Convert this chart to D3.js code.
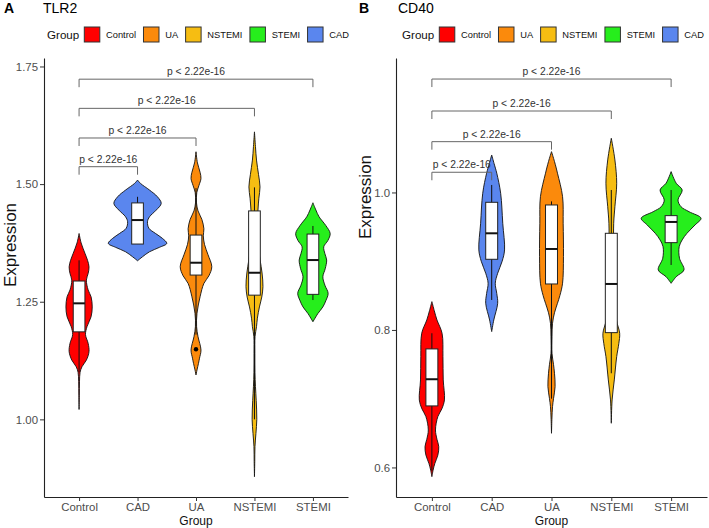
<!DOCTYPE html>
<html><head><meta charset="utf-8">
<script src="https://cdn.jsdelivr.net/npm/d3@7"></script>
<style>body{margin:0;background:#fff}svg{display:block}text{font-family:"Liberation Sans",Arial,sans-serif}</style>
</head><body><svg id="c" width="709" height="528"></svg>
<script>
// ---------- data ----------
const categories = ["Control", "CAD", "UA", "NSTEMI", "STEMI"];
const categoryColors = ["#ff0000", "#5a86ee", "#fb8a0c", "#f6bd12", "#26ee1c"];
const legendOrder = ["Control", "UA", "NSTEMI", "STEMI", "CAD"];
const comparisons = [["Control", "CAD"], ["Control", "UA"], ["Control", "NSTEMI"], ["Control", "STEMI"]];
const pLabels = ["p < 2.22e-16", "p < 2.22e-16", "p < 2.22e-16", "p < 2.22e-16"];

// TLR2 panel
const tlr2Ticks = [1.00, 1.25, 1.50, 1.75];
const tlr2Domain = [0.835, 1.768];
const tlr2BracketY = [1.537, 1.598, 1.661, 1.723];
// violin profiles: [value, relative density]
const tlr2Control = [[1.395,0],[1.375,.07],[1.353,.2],[1.338,.29],[1.324,.34],[1.31,.31],[1.296,.25],[1.275,.31],[1.2606,.41],[1.239,.45],[1.218,.41],[1.197,.27],[1.18,.22],[1.1616,.31],[1.144,.34],[1.126,.25],[1.112,.1],[1.1,.034],[1.08,.014],[1.05,.007],[1.021,0]];
const tlr2CAD = [[1.5086,0],[1.5015,.1],[1.4873,.41],[1.4731,.68],[1.459,.81],[1.4448,.64],[1.4306,.41],[1.42,.34],[1.406,.39],[1.3953,.61],[1.3847,.85],[1.374,1.0],[1.3656,.75],[1.3562,.41],[1.3456,.17],[1.3371,0]];
const tlr2UA = [[1.5687,0],[1.545,.05],[1.525,.14],[1.512,.17],[1.497,.1],[1.482,.027],[1.46,.017],[1.443,.07],[1.425,.2],[1.405,.27],[1.39,.25],[1.372,.29],[1.35,.41],[1.3244,.54],[1.305,.44],[1.289,.27],[1.2606,.14],[1.2254,.034],[1.197,.02],[1.1756,.07],[1.1474,.17],[1.13,.12],[1.1191,.085],[1.105,.034],[1.0943,0]];
const tlr2NSTEMI = [[1.611,0],[1.58,.034],[1.551,.07],[1.52,.14],[1.494,.19],[1.47,.15],[1.445,.12],[1.41,.1],[1.374,.12],[1.34,.19],[1.311,.26],[1.282,.29],[1.26,.25],[1.239,.17],[1.215,.1],[1.197,.07],[1.176,.02],[1.14,.014],[1.1,.017],[1.07,.034],[1.04,.06],[1.0,.08],[0.97,.05],[0.942,.017],[0.91,.01],[0.878,0]];
const tlr2STEMI = [[1.4603,0],[1.445,.1],[1.4306,.21],[1.412,.44],[1.395,.59],[1.38,.51],[1.3668,.37],[1.352,.41],[1.3386,.47],[1.32,.42],[1.303,.34],[1.285,.41],[1.2679,.52],[1.252,.44],[1.239,.34],[1.225,.17],[1.218,.1],[1.2075,0]];
// box stats: [lower whisker, q1, median, q3, upper whisker]
const tlr2Box = [[1.10,1.186,1.2466,1.294,1.338],[1.3726,1.3726,1.4236,1.460,1.473],[1.18,1.3067,1.3329,1.3917,1.4915],[1.0,1.264,1.3116,1.443,1.493],[1.2536,1.2657,1.3386,1.3938,1.411]];
const tlr2Outliers = [["UA", 1.149]];

// CD40 panel
const cd40Ticks = [0.6, 0.8, 1.0];
const cd40Domain = [0.557, 1.1956];
const cd40BracketY = [1.0294, 1.0739, 1.1185, 1.165];
const cd40Control = [[0.8412,0],[0.828,.08],[0.8145,.17],[0.7952,.34],[0.7612,.37],[0.7273,.38],[0.6982,.42],[0.685,.33],[0.674,.2],[0.6545,.12],[0.641,.17],[0.6303,.23],[0.618,.2],[0.606,.1],[0.596,.04],[0.5866,0]];
const cd40CAD = [[1.0545,0],[1.042,.08],[1.028,.17],[0.9988,.3],[0.9552,.37],[0.9164,.43],[0.9,.35],[0.8825,.2],[0.868,.12],[0.853,.17],[0.8388,.2],[0.8145,.07],[0.7976,0]];
const cd40UA = [[1.0594,0],[1.045,.1],[1.028,.2],[0.9939,.37],[0.9552,.39],[0.9066,.4],[0.868,.37],[0.85,.28],[0.8388,.2],[0.825,.1],[0.8097,.034],[0.79,.017],[0.766,.017],[0.75,.067],[0.737,.1],[0.7175,.12],[0.70,.067],[0.6884,.034],[0.67,.013],[0.6497,0]];
const cd40NSTEMI = [[1.0788,0],[1.0473,.12],[1.0134,.18],[0.9793,.12],[0.9552,.08],[0.92,.077],[0.8825,.083],[0.85,.1],[0.8145,.17],[0.7952,.28],[0.78,.25],[0.7612,.18],[0.7273,.1],[0.6982,.027],[0.6643,0]];
const cd40STEMI = [[1.0303,0],[1.0134,.17],[1.0036,.37],[0.9891,.23],[0.9793,.33],[0.972,.6],[0.9625,1.0],[0.9527,.8],[0.9406,.53],[0.931,.37],[0.9212,.27],[0.9043,.28],[0.8873,.43],[0.8775,.17],[0.8679,0]];
const cd40Box = [[0.595,0.6895,0.7283,0.7724,0.7952],[0.8436,0.9028,0.9406,0.9857,1.0109],[0.70,0.8669,0.9178,0.9818,0.987],[0.737,0.7961,0.8669,0.9406,1.0036],[0.8945,0.927,0.9571,0.9663,1.0036]];
const cd40Outliers = [];

// ---------- drawing ----------
const svg = d3.select("#c");
const colorOf = d3.scaleOrdinal().domain(categories).range(categoryColors);

function panel(o) {
  const g = svg.append("g");
  const x = d3.scalePoint().domain(categories).range([o.left, o.right]).padding(0.6);
  const y = d3.scaleLinear().domain(o.domain).range([497, 58]);
  const w = d3.scaleLinear().domain([0, 1]).range([0, x.step() * 0.5]);
  const boxHalf = x.step() * 0.1;

  // titles
  g.append("text").attr("x", o.ox + 4).attr("y", 13).attr("font-size", 14).attr("font-weight", "bold").text(o.letter);
  g.append("text").attr("x", o.ox + 43).attr("y", 13).attr("font-size", 14).text(o.title);

  // legend
  const lg = g.append("g");
  lg.append("text").attr("x", o.ox + 47).attr("y", 39).attr("font-size", 11.6).attr("fill", "#111").text("Group");
  let lx = o.ox + 84.3;
  legendOrder.forEach(c => {
    lg.append("rect").attr("x", lx).attr("y", 27).attr("width", 15.5).attr("height", 15)
      .attr("fill", colorOf(c)).attr("stroke", "#333").attr("stroke-width", 1);
    const t = lg.append("text").attr("x", lx + 21.7).attr("y", 38).attr("font-size", 9.3).attr("fill", "#111").text(c);
    lx += 21.7 + t.node().getComputedTextLength() + 7.5;
  });

  // axes
  const ya = g.append("g").attr("transform", `translate(${o.left},0)`)
    .call(d3.axisLeft(y).tickValues(o.ticks).tickFormat(d3.format(o.fmt)).tickSize(4).tickSizeOuter(0));
  ya.select(".domain").attr("stroke", "#222").attr("stroke-width", 1.1);
  ya.selectAll(".tick line").attr("stroke", "#333");
  ya.selectAll(".tick text").attr("font-size", 11.4).attr("fill", "#4d4d4d").attr("font-family", "Liberation Sans, Arial, sans-serif").attr("x", -6);
  const xa = g.append("g").attr("transform", `translate(0,497)`)
    .call(d3.axisBottom(x).tickSize(4).tickSizeOuter(0));
  xa.select(".domain").attr("stroke", "#222").attr("stroke-width", 1.1);
  xa.selectAll(".tick line").attr("stroke", "#333");
  xa.selectAll(".tick text").attr("font-size", 11.4).attr("fill", "#4d4d4d").attr("font-family", "Liberation Sans, Arial, sans-serif").attr("dy", "0.75em").attr("y", 5);
  g.append("text").attr("x", (o.left + o.right) / 2).attr("y", 525).attr("text-anchor", "middle").attr("font-size", 12).attr("fill", "#111").text("Group");
  g.append("text").attr("transform", `translate(${o.ox + 16},${o.ylabY}) rotate(-90)`).attr("text-anchor", "middle")
    .attr("font-size", 17).attr("fill", "#111").text("Expression");

  // violins
  const area = d3.area().curve(d3.curveCatmullRom.alpha(0.5))
    .y(d => y(d[0]));
  categories.forEach((c, i) => {
    const cx = x(c);
    g.append("path").datum(o.violins[i])
      .attr("d", area.x0(d => cx - w(d[1])).x1(d => cx + w(d[1])))
      .attr("fill", colorOf(c)).attr("stroke", "#111").attr("stroke-width", 0.9);
  });
  // boxes
  categories.forEach((c, i) => {
    const cx = x(c), b = o.box[i];
    g.append("line").attr("x1", cx).attr("x2", cx).attr("y1", y(b[0])).attr("y2", y(b[4])).attr("stroke", "#111").attr("stroke-width", 1);
    g.append("rect").attr("x", cx - boxHalf).attr("width", boxHalf * 2).attr("y", y(b[3])).attr("height", y(b[1]) - y(b[3]))
      .attr("fill", "#fff").attr("stroke", "#222").attr("stroke-width", 1);
    g.append("line").attr("x1", cx - boxHalf).attr("x2", cx + boxHalf).attr("y1", y(b[2])).attr("y2", y(b[2])).attr("stroke", "#111").attr("stroke-width", 2);
  });
  o.outliers.forEach(p => {
    g.append("circle").attr("cx", x(p[0])).attr("cy", y(p[1])).attr("r", 2.2).attr("fill", "#000");
  });

  // brackets
  comparisons.forEach((cmp, i) => {
    const yy = y(o.brackets[i]), x1 = x(cmp[0]), x2 = x(cmp[1]);
    g.append("path").attr("d", `M${x1},${yy + 8}V${yy}H${x2}V${yy + 8}`).attr("fill", "none").attr("stroke", "#666").attr("stroke-width", 1);
    g.append("text").attr("x", (x1 + x2) / 2).attr("y", yy - 4).attr("text-anchor", "middle").attr("font-size", 10.3).attr("fill", "#333").text(pLabels[i]);
  });
}

panel({ox: 0, left: 44, right: 348, letter: "A", title: "TLR2", domain: tlr2Domain, ticks: tlr2Ticks, fmt: ".2f",
  violins: [tlr2Control, tlr2CAD, tlr2UA, tlr2NSTEMI, tlr2STEMI], box: tlr2Box, outliers: tlr2Outliers, brackets: tlr2BracketY, ylabY: 245});
panel({ox: 355, left: 396, right: 707, letter: "B", title: "CD40", domain: cd40Domain, ticks: cd40Ticks, fmt: ".1f",
  violins: [cd40Control, cd40CAD, cd40UA, cd40NSTEMI, cd40STEMI], box: cd40Box, outliers: cd40Outliers, brackets: cd40BracketY, ylabY: 197});
</script></body></html>
